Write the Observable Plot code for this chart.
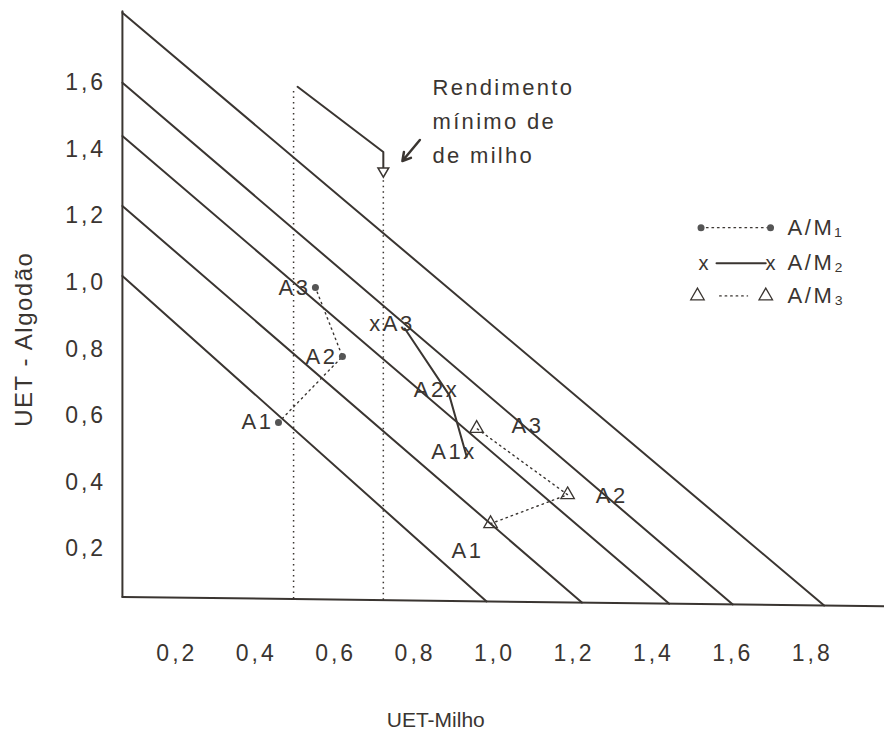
<!DOCTYPE html>
<html>
<head>
<meta charset="utf-8">
<script src="https://cdn.jsdelivr.net/npm/d3@7"></script>
<script src="https://cdn.jsdelivr.net/npm/@observablehq/plot@0.6"></script>
<style>
  html, body { margin: 0; padding: 0; background: #fff; }
  .ticks text { letter-spacing: 3px; }
  .labels text { letter-spacing: 2.5px; }
  .note text { letter-spacing: 2.3px; }
  .ytitle text { letter-spacing: 1.5px; }
  .legend text { letter-spacing: 2.5px; }
</style>
</head>
<body>
<div id="chart"></div>
<script>
// ---------------- data ----------------
const xTicks = [0.2, 0.4, 0.6, 0.8, 1.0, 1.2, 1.4, 1.6, 1.8];
const yTicks = [0.2, 0.4, 0.6, 0.8, 1.0, 1.2, 1.4, 1.6];

// iso-LER lines: where each meets the y axis and the x axis
const lerLevels   = ["1,0", "1,2", "1,4", "1,6", "1,8"];
const lineYStart  = [1.02, 1.23, 1.44, 1.60, 1.81];
const lineXEnd    = [0.98, 1.22, 1.44, 1.60, 1.83];

const arrangements = ["A1", "A2", "A3"];
// A/M1 (dots, dotted line)
const m1X = [0.456, 0.617, 0.549];
const m1Y = [0.580, 0.778, 0.985];
// A/M2 (crosses, solid line)
const m2X = [0.930, 0.886, 0.774];
const m2Y = [0.477, 0.662, 0.862];
const m2Labels = ["A1x", "A2x", "xA3"];
// A/M3 (triangles, dotted line)
const m3X = [0.990, 1.184, 0.955];
const m3Y = [0.276, 0.363, 0.562];
const m3LabelX = [0.932, 1.295, 1.083];
const m3LabelY = [0.195, 0.360, 0.570];

// minimum maize yield annotation
const minMaizeX = 0.72;
const leftDottedX = 0.494;
const noteText = "Rendimento\nmínimo de\nde milho";

const legendLabels = ["A/M\u2081", "A/M\u2082", "A/M\u2083"];

// ---------------- helpers ----------------
const ink = "#3a3531";
const font = "'Liberation Sans', Arial, sans-serif";
const comma = d => d.toFixed(1).replace(".", ",");
const x0 = 0.063;                                  // drawn y axis
const base = x => 0.056 - (x - x0) * 0.0146;       // drawn (slightly tilted) x axis

const diagonals = lerLevels.flatMap((level, i) => [
  {level, x: x0, y: lineYStart[i]},
  {level, x: lineXEnd[i], y: base(lineXEnd[i])}
]);
const m1 = arrangements.map((a, i) => ({a, x: m1X[i], y: m1Y[i]}));
const m2 = arrangements.map((a, i) => ({a, x: m2X[i], y: m2Y[i], label: m2Labels[i]}));
const m3 = arrangements.map((a, i) => ({a, x: m3X[i], y: m3Y[i], lx: m3LabelX[i], ly: m3LabelY[i]}));

// legend rows (in data units, top-right of the plot)
const legRowY = [1.165, 1.058, 0.960];
const legX1 = 1.52, legX2 = 1.695, legTextX = 1.738;

const chart = Plot.plot({
  width: 884,
  height: 736,
  margin: 0,
  x: {domain: [-0.244, 1.982], axis: null},
  y: {domain: [-0.363, 1.847], axis: null},
  style: {fontFamily: font, color: ink, background: "#fff"},
  marks: [
    // axes (drawn frame)
    Plot.line([{x: x0, y: base(x0)}, {x: x0, y: 1.815}], {x: "x", y: "y", stroke: ink, strokeWidth: 2}),
    Plot.line([{x: x0, y: base(x0)}, {x: 1.982, y: base(1.982)}], {x: "x", y: "y", stroke: ink, strokeWidth: 2}),

    // iso-LER lines
    Plot.line(diagonals, {x: "x", y: "y", z: "level", stroke: ink, strokeWidth: 2}),

    // vertical dotted lines
    Plot.ruleX([leftDottedX], {y1: base(leftDottedX), y2: 1.585, stroke: ink, strokeWidth: 1.5, strokeDasharray: "1.5,4"}),
    Plot.ruleX([minMaizeX], {y1: base(minMaizeX), y2: 1.325, stroke: ink, strokeWidth: 1.5, strokeDasharray: "1.5,4"}),

    // bracket to the arrow head
    Plot.line([{x: 0.504, y: 1.588}, {x: minMaizeX, y: 1.392}, {x: minMaizeX, y: 1.345}],
      {x: "x", y: "y", stroke: ink, strokeWidth: 2}),
    Plot.dot([{x: minMaizeX, y: 1.335}], {x: "x", y: "y", symbol: "triangle", rotate: 180, r: 4, stroke: ink, fill: "#fff", strokeWidth: 1.5}),

    // annotation arrow + text
    Plot.arrow([{x1: 0.812, y1: 1.428, x2: 0.768, y2: 1.365}],
      {x1: "x1", y1: "y1", x2: "x2", y2: "y2", stroke: ink, strokeWidth: 2.5, headLength: 9}),
    Plot.text([noteText], {x: 0.844, y: 1.637, text: d => d, textAnchor: "start", lineAnchor: "top",
      lineHeight: 1.55, fontSize: 22, fill: ink, className: "note"}),

    // A/M1
    Plot.line(m1, {x: "x", y: "y", stroke: ink, strokeWidth: 1.4, strokeDasharray: "1.5,4"}),
    Plot.dot(m1, {x: "x", y: "y", r: 3.5, fill: "#555", stroke: "none"}),
    Plot.text(m1, {x: "x", y: "y", text: "a", textAnchor: "end", dx: -5, fontSize: 22, fill: ink, className: "labels"}),

    // A/M2
    Plot.line(m2, {x: "x", y: "y", stroke: ink, strokeWidth: 2}),
    Plot.text(m2, {x: "x", y: "y", text: "label", textAnchor: "end", dx: 10, dy: -5, fontSize: 22, fill: ink, className: "labels"}),

    // A/M3
    Plot.line(m3, {x: "x", y: "y", stroke: ink, strokeWidth: 1.4, strokeDasharray: "1.5,4"}),
    Plot.dot(m3, {x: "x", y: "y", symbol: "triangle", r: 5, stroke: ink, fill: "none", strokeWidth: 1.3}),
    Plot.text(m3, {x: "lx", y: "ly", text: "a", fontSize: 22, fill: ink, className: "labels"}),

    // legend
    Plot.line([{x: legX1, y: legRowY[0]}, {x: legX2, y: legRowY[0]}], {x: "x", y: "y", stroke: ink, strokeWidth: 1.4, strokeDasharray: "1.5,4"}),
    Plot.dot([legX1, legX2], {x: d => d, y: legRowY[0], r: 3.5, fill: "#555"}),
    Plot.line([{x: 1.559, y: legRowY[1]}, {x: 1.683, y: legRowY[1]}], {x: "x", y: "y", stroke: ink, strokeWidth: 2}),
    Plot.text([1.526, 1.695], {x: d => d, y: legRowY[1], text: () => "x", fontSize: 20, fill: ink}),
    Plot.line([{x: 1.567, y: legRowY[2]}, {x: 1.637, y: legRowY[2]}], {x: "x", y: "y", stroke: ink, strokeWidth: 1.4, strokeDasharray: "1.5,4"}),
    Plot.dot([1.511, 1.683], {x: d => d, y: legRowY[2], symbol: "triangle", r: 5, stroke: ink, fill: "none", strokeWidth: 1.3}),
    Plot.text(legendLabels, {x: legTextX, y: (d, i) => legRowY[i], text: d => d, textAnchor: "start", fontSize: 22, fill: ink, className: "legend"}),

    // tick labels
    Plot.text(xTicks, {x: d => d, y: -0.113, text: comma, fontSize: 23, fill: ink, className: "ticks"}),
    Plot.text(yTicks, {x: 0.022, y: d => d, text: comma, textAnchor: "end", fontSize: 23, fill: ink, className: "ticks"}),

    // axis titles
    Plot.text(["UET-Milho"], {x: 0.852, y: -0.315, text: d => d, fontSize: 21, fill: ink}),
    Plot.text(["UET - Algodão"], {x: -0.185, y: 0.83, text: d => d, rotate: -90, fontSize: 24, fill: ink, className: "ytitle"})
  ]
});
document.getElementById("chart").appendChild(chart);
</script>
</body>
</html>
